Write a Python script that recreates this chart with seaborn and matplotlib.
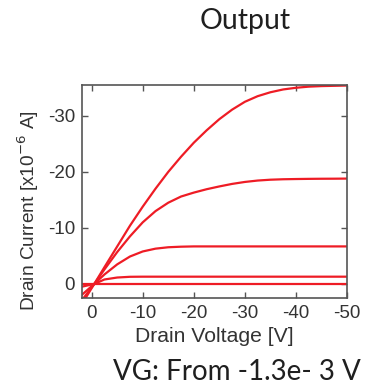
import matplotlib
matplotlib.use("Agg")
import matplotlib.pyplot as plt
import seaborn as sns
import pandas as pd

# drain voltage grid [V]
vd = [2, -0.5, -2.5, -5, -7.5, -10, -12.5, -15, -17.5, -20, -22.5, -25,
      -27.5, -30, -32.5, -35, -37.5, -40, -42.5, -45, -47.5, -50]

# drain current [x1e-6 A], one list per gate voltage step
id_1 = [3.7, 0, -3.0, -6.7, -10.4, -13.8, -17.0, -20.0, -22.7, -25.2, -27.4, -29.4,
        -31.1, -32.5, -33.5, -34.2, -34.7, -35.0, -35.2, -35.3, -35.35, -35.4]
id_2 = [3.0, 0, -2.6, -5.7, -8.5, -11.0, -13.0, -14.5, -15.6, -16.3, -16.9, -17.4,
        -17.85, -18.2, -18.45, -18.6, -18.68, -18.72, -18.75, -18.77, -18.78, -18.8]
id_3 = [2.0, 0, -1.7, -3.5, -4.9, -5.8, -6.3, -6.55, -6.65, -6.7, -6.7, -6.7,
        -6.7, -6.7, -6.7, -6.7, -6.7, -6.7, -6.7, -6.7, -6.7, -6.7]
id_4 = [0.5, 0, -0.8, -1.15, -1.28, -1.3, -1.3, -1.3, -1.3, -1.3, -1.3, -1.3,
        -1.3, -1.3, -1.3, -1.3, -1.3, -1.3, -1.3, -1.3, -1.3, -1.3]
id_5 = [0] * len(vd)

xticks = [0, -10, -20, -30, -40, -50]
yticks = [0, -10, -20, -30]

curves = [id_1, id_2, id_3, id_4, id_5]
df = pd.concat([pd.DataFrame({'vd': vd, 'id': c, 'curve': i})
                for i, c in enumerate(curves)])

sns.set_style("ticks")
plt.rcParams['font.family'] = ['Liberation Sans', 'DejaVu Sans']
plt.rcParams['axes.unicode_minus'] = False

fig = plt.figure(figsize=(3.67, 3.88), dpi=100)
ax = fig.add_axes([0.2234, 0.232, 0.7221, 0.549])

sns.lineplot(data=df, x='vd', y='id', hue='curve', palette=['#ee1c25'] * 5,
             estimator=None, sort=False, legend=False, linewidth=1.6, ax=ax)

ax.set_xlim(1.9, -50)
ax.set_ylim(2.5, -35.5)
ax.set_xticks(xticks)
ax.set_yticks(yticks)
ax.tick_params(direction='in', length=4, width=1, colors='#555555',
               labelcolor='#333333', labelsize=13.5, top=True, right=True,
               labeltop=False, labelright=False, pad=5)
for s in ax.spines.values():
    s.set_color('#555555')
    s.set_linewidth(1.2)

ax.set_xlabel('Drain Voltage [V]', fontsize=15.2, color='#333333', labelpad=4)
ax.set_ylabel('Drain Current [x10$^{-6}$ A]', fontsize=13.8, color='#333333')
ax.yaxis.set_label_coords(-0.155, 0.41)

fig.text(0.667, 0.945, 'Output', fontsize=20.5, family=['Lato', 'DejaVu Sans'],
         color='#1f1f1f', ha='center', va='center')
fig.text(0.645, 0.04, 'VG: From -1.3e- 3 V', fontsize=20, family=['Lato', 'DejaVu Sans'],
         color='#1f1f1f', ha='center', va='center')

fig.savefig('out.png', dpi=100)
